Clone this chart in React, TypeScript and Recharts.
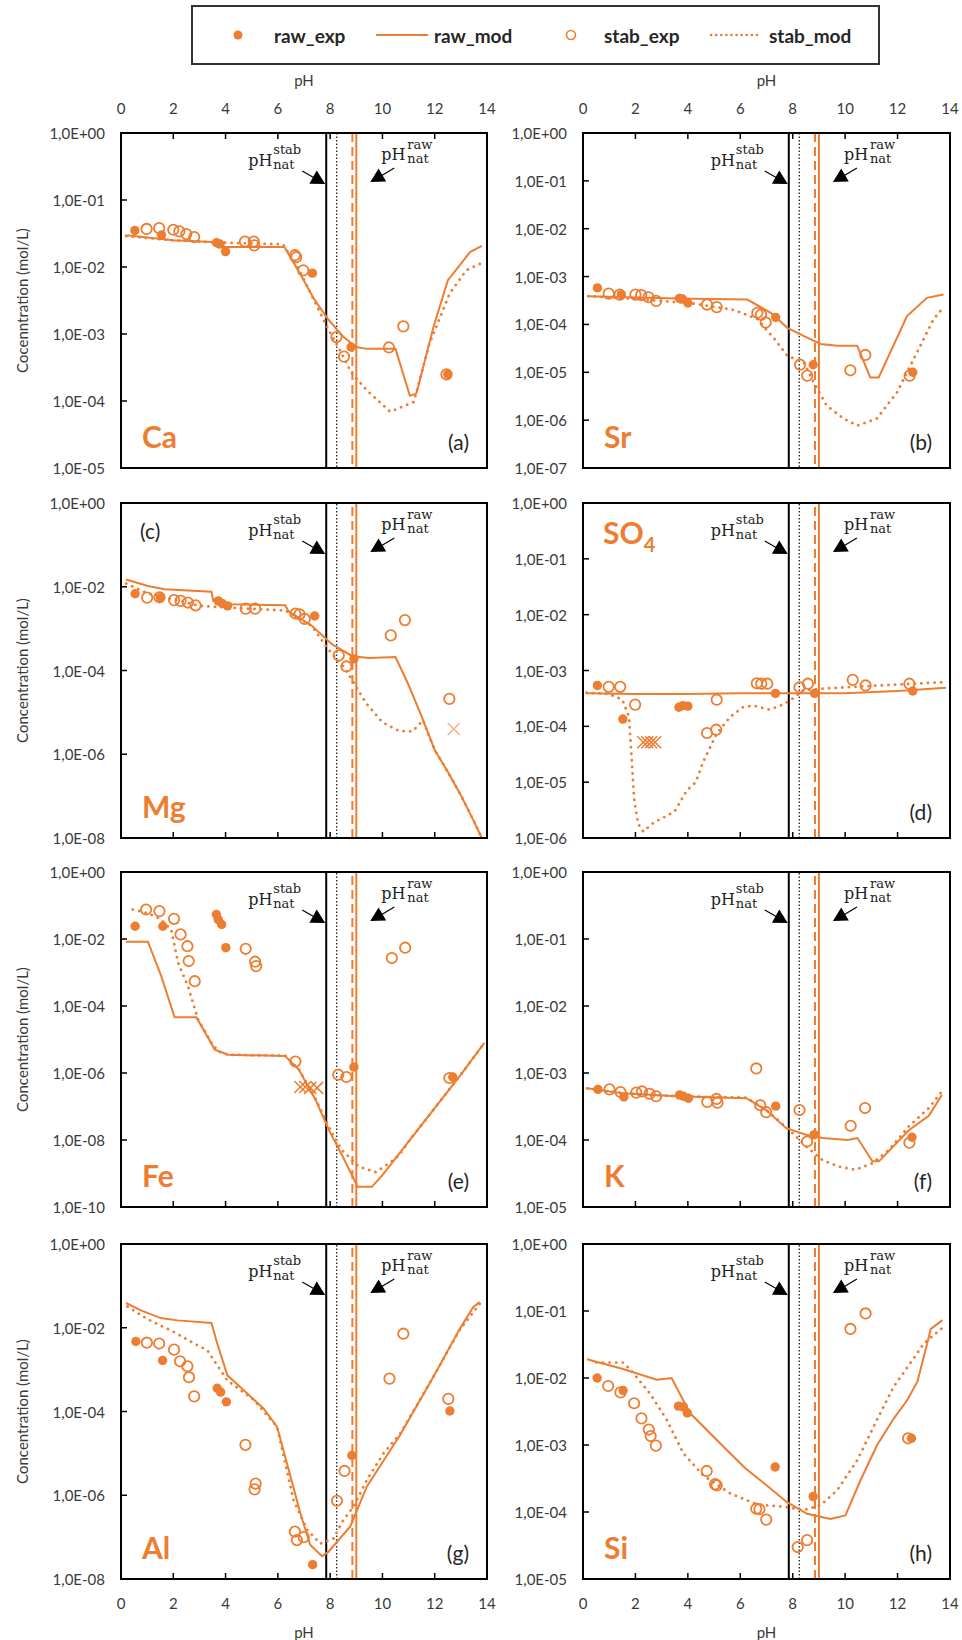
import React from "react";
import { ComposedChart, Line, Scatter, XAxis, YAxis, ReferenceLine } from "recharts";

const ORANGE = "#ED7D31";
const FONT = "Lato, 'Open Sans', sans-serif";
const SERIF = "'DejaVu Serif', serif";

const pHTicks = [0, 2, 4, 6, 8, 10, 12, 14];
// natural pH markers: stab exp, stab model, raw model, raw exp
const natStabExp = 7.85;
const natStabMod = 8.25;
const natRawMod = 8.85;
const natRawExp = 9.0;

const ticks5 = [1e-5, 1e-4, 1e-3, 1e-2, 1e-1, 1];
const ticks7 = [1e-7, 1e-6, 1e-5, 1e-4, 1e-3, 1e-2, 1e-1, 1];
const ticks6 = [1e-6, 1e-5, 1e-4, 1e-3, 1e-2, 1e-1, 1];
const ticks8 = [1e-8, 1e-6, 1e-4, 1e-2, 1];
const ticks10 = [1e-10, 1e-8, 1e-6, 1e-4, 1e-2, 1];

// ---- Ca
const caRawExp = [[0.53, 0.035], [1.55, 0.030], [3.65, 0.023], [3.78, 0.022], [4.0, 0.017], [7.32, 0.0081], [8.8, 6.4e-4], [12.5, 2.5e-4]];
const caStabExp = [[0.98, 0.037], [1.46, 0.038], [2.0, 0.036], [2.23, 0.034], [2.5, 0.031], [2.8, 0.028], [4.74, 0.024], [5.08, 0.024], [5.1, 0.021], [6.65, 0.015], [6.7, 0.014], [6.97, 0.0089], [8.24, 9e-4], [8.53, 4.6e-4], [10.25, 6.3e-4], [10.8, 1.3e-3], [12.45, 2.5e-4]];
const caRawMod = [[0.2, 0.0297], [2.0, 0.025], [3.5, 0.0236], [4.0, 0.0199], [6.25, 0.0199], [6.85, 0.0079], [7.35, 0.0035], [7.9, 0.0017], [8.5, 9.1e-4], [9.0, 6.4e-4], [9.4, 6.0e-4], [10.5, 6.0e-4], [11.05, 1.2e-4], [11.3, 1.29e-4], [11.95, 1.26e-3], [12.5, 6.3e-3], [13.35, 0.0167], [13.8, 0.0206]];
const caStabMod = [[0.2, 0.029], [2.0, 0.025], [4.0, 0.023], [6.2, 0.0218], [6.7, 0.011], [7.2, 0.0045], [7.85, 0.00135], [8.4, 5.5e-4], [8.8, 2.7e-4], [9.4, 1.45e-4], [10.3, 6.9e-5], [11.2, 9.7e-5], [11.8, 7.2e-4], [12.57, 4e-3], [13.2, 8.9e-3], [13.8, 0.0115]];

// ---- Sr
const srRawExp = [[0.55, 5.8e-4], [1.46, 4.2e-4], [3.68, 3.5e-4], [3.8, 3.4e-4], [4.0, 2.8e-4], [7.35, 1.4e-4], [8.78, 1.44e-5], [12.58, 1.0e-5]];
const srStabExp = [[0.98, 4.4e-4], [1.4, 4.2e-4], [2.0, 4.2e-4], [2.22, 4.1e-4], [2.5, 3.7e-4], [2.79, 3.1e-4], [4.73, 2.6e-4], [5.1, 2.3e-4], [6.65, 1.75e-4], [6.79, 1.6e-4], [6.97, 1.1e-4], [8.28, 1.44e-5], [8.55, 8.5e-6], [10.2, 1.1e-5], [10.77, 2.3e-5], [12.46, 8.5e-6]];
const srRawMod = [[0.2, 3.9e-4], [3.6, 3.5e-4], [6.27, 3.3e-4], [7.16, 1.75e-4], [7.8, 8.5e-5], [8.43, 5.7e-5], [9.06, 3.9e-5], [9.7, 3.6e-5], [10.46, 3.6e-5], [10.96, 7.8e-6], [11.28, 7.8e-6], [12.36, 1.5e-4], [13.12, 3.6e-4], [13.75, 4.2e-4]];
const srStabMod = [[0.2, 3.9e-4], [2.0, 3.4e-4], [4.1, 2.8e-4], [5.77, 2.0e-4], [6.65, 1.3e-4], [7.3, 5.0e-5], [7.8, 2.2e-5], [8.43, 1.6e-5], [8.8, 6.2e-6], [9.3, 2.0e-6], [9.95, 1.07e-6], [10.46, 7.7e-7], [11.2, 1.07e-6], [11.98, 3.8e-6], [12.74, 2.6e-5], [13.37, 1.28e-4], [13.78, 2.4e-4]];

// ---- Mg
const mgRawExp = [[0.54, 6.8e-3], [1.51, 5.5e-3], [3.72, 4.6e-3], [3.87, 4.0e-3], [4.08, 3.5e-3], [7.41, 2.0e-3], [8.91, 1.9e-4]];
const mgStabExp = [[1.0, 5.5e-3], [1.47, 5.6e-3], [2.03, 4.8e-3], [2.28, 4.6e-3], [2.56, 4.2e-3], [2.85, 3.6e-3], [4.77, 3.0e-3], [5.13, 3.0e-3], [6.67, 2.3e-3], [6.83, 2.2e-3], [7.03, 1.7e-3], [8.33, 2.3e-4], [8.62, 1.25e-4], [10.32, 6.9e-4], [10.86, 1.6e-3], [12.56, 2.1e-5]];
const mgRawMod = [[0.19, 0.0149], [1.03, 0.0104], [1.67, 8.7e-3], [3.46, 7.6e-3], [3.53, 4.6e-3], [4.23, 3.8e-3], [6.28, 3.6e-3], [6.41, 2.6e-3], [7.31, 1.16e-3], [8.08, 4.2e-4], [8.85, 2.2e-4], [9.49, 2.0e-4], [10.5, 2.1e-4], [11.0, 4.5e-5], [11.5, 8e-6], [12.0, 1.26e-6], [12.5, 3.8e-7], [13.0, 1.05e-7], [13.5, 2.5e-8], [13.8, 1e-8]];
const mgStabMod = [[0.2, 0.012], [1.0, 7e-3], [2.0, 5e-3], [3.0, 3.5e-3], [4.0, 3.2e-3], [6.3, 2.7e-3], [7.3, 1.16e-3], [7.88, 3.5e-4], [8.59, 1.07e-4], [8.97, 4.3e-5], [9.36, 1.7e-5], [10.0, 5.8e-6], [10.64, 3.6e-6], [11.15, 3.5e-6], [11.55, 6.5e-6], [12.0, 1.26e-6], [12.5, 3.8e-7], [13.0, 1.05e-7], [13.5, 2.5e-8], [13.8, 1e-8]];
const mgOther = [[12.73, 4.0e-6]];

// ---- SO4
const so4RawExp = [[0.55, 5.4e-4], [1.52, 1.35e-4], [3.66, 2.2e-4], [3.81, 2.35e-4], [4.0, 2.3e-4], [7.34, 3.9e-4], [8.83, 3.9e-4], [12.58, 4.3e-4]];
const so4StabExp = [[0.98, 5.1e-4], [1.42, 5.1e-4], [1.99, 2.45e-4], [4.73, 7.6e-5], [5.08, 8.7e-5], [5.1, 3.0e-4], [6.63, 5.9e-4], [6.8, 5.8e-4], [7.03, 5.8e-4], [8.26, 5.0e-4], [8.58, 5.8e-4], [10.29, 6.8e-4], [10.78, 5.4e-4], [12.45, 5.8e-4]];
const so4RawMod = [[0.13, 3.9e-4], [2.0, 3.8e-4], [4.0, 3.8e-4], [6.0, 3.9e-4], [8.0, 3.9e-4], [10.0, 3.9e-4], [12.0, 4.3e-4], [13.85, 4.9e-4]];
const so4StabMod = [[0.13, 4.0e-4], [1.0, 3.8e-4], [1.5, 3.0e-4], [1.75, 1.5e-4], [1.85, 3e-5], [1.95, 5e-6], [2.1, 1.8e-6], [2.3, 1.3e-6], [2.7, 1.9e-6], [3.2, 2.5e-6], [3.5, 3e-6], [3.95, 7e-6], [4.3, 1e-5], [4.6, 2.4e-5], [5.1, 7.4e-5], [5.6, 1.45e-4], [6.1, 2.2e-4], [6.5, 2.35e-4], [7.1, 2.0e-4], [7.5, 2.3e-4], [7.9, 2.9e-4], [8.4, 4.4e-4], [9.0, 4.7e-4], [11.0, 5.3e-4], [13.85, 6.2e-4]];
const so4Other = [[2.3, 5.2e-5], [2.45, 5.2e-5], [2.6, 5.2e-5], [2.75, 5.2e-5]];

// ---- Fe
const feRawExp = [[0.54, 0.024], [1.6, 0.024], [3.65, 0.054], [3.72, 0.038], [3.85, 0.027], [4.01, 5.5e-3], [8.91, 1.5e-6], [12.69, 7.6e-7]];
const feStabExp = [[0.96, 0.076], [1.47, 0.068], [2.03, 0.040], [2.28, 0.0137], [2.54, 6.1e-3], [2.59, 2.2e-3], [2.82, 5.5e-4], [4.77, 5.1e-3], [5.13, 2.1e-3], [5.17, 1.55e-3], [6.67, 2.2e-6], [8.31, 8.9e-7], [8.62, 7.6e-7], [10.36, 2.7e-3], [10.87, 5.5e-3], [12.56, 7.1e-7]];
const feRawMod = [[0.19, 8.3e-3], [1.03, 8.3e-3], [1.54, 7.8e-4], [2.05, 4.6e-5], [2.88, 4.6e-5], [3.59, 5e-6], [4.1, 3.5e-6], [6.28, 3.2e-6], [6.8, 1.26e-6], [7.44, 1.6e-7], [7.95, 2e-8], [8.5, 3e-9], [9.05, 4e-10], [9.6, 4e-10], [10.0, 9e-10], [11.0, 9e-9], [12.0, 9e-8], [13.0, 9e-7], [13.9, 7.9e-6]];
const feStabMod = [[0.45, 0.076], [1.0, 0.06], [1.5, 0.04], [1.92, 0.019], [2.18, 2e-3], [2.56, 3.9e-4], [2.95, 3.9e-5], [3.46, 8e-6], [3.72, 4.4e-6], [4.1, 3.5e-6], [6.28, 3.3e-6], [6.8, 1.3e-6], [7.44, 1.7e-7], [8.07, 1.6e-8], [8.45, 5e-9], [9.1, 1.6e-9], [9.75, 1.1e-9], [10.25, 2e-9], [10.64, 3.5e-9], [11.0, 9e-9], [12.0, 9e-8], [13.0, 9e-7], [13.9, 7.9e-6]];
const feOther = [[6.86, 3.8e-7], [7.05, 3.8e-7], [7.24, 3.6e-7], [7.5, 3.6e-7]];

// ---- K
const kRawExp = [[0.57, 5.7e-4], [1.56, 4.4e-4], [3.68, 4.7e-4], [3.83, 4.5e-4], [4.02, 4.2e-4], [7.35, 3.2e-4], [8.82, 1.2e-4], [12.55, 1.1e-4]];
const kStabExp = [[1.01, 5.7e-4], [1.43, 5.2e-4], [2.03, 5.1e-4], [2.25, 5.3e-4], [2.54, 4.9e-4], [2.79, 4.5e-4], [4.74, 3.7e-4], [5.09, 4.1e-4], [5.13, 3.6e-4], [6.61, 1.17e-3], [6.76, 3.3e-4], [6.99, 2.6e-4], [8.26, 2.8e-4], [8.55, 9.5e-5], [10.21, 1.63e-4], [10.76, 3.0e-4], [12.45, 9.1e-5]];
const kRawMod = [[0.16, 5.9e-4], [1.5, 5.0e-4], [3.58, 4.5e-4], [6.23, 4.2e-4], [6.99, 2.8e-4], [7.75, 1.5e-4], [8.51, 1.2e-4], [9.14, 1.07e-4], [10.09, 1.0e-4], [10.47, 1.07e-4], [11.04, 4.8e-5], [11.29, 4.8e-5], [12.43, 1.4e-4], [13.19, 2.3e-4], [13.69, 4.7e-4]];
const kStabMod = [[0.16, 5.9e-4], [1.5, 5.0e-4], [3.58, 4.5e-4], [6.23, 4.3e-4], [6.99, 2.8e-4], [7.88, 1.4e-4], [8.51, 8e-5], [9.14, 5e-5], [9.77, 4e-5], [10.4, 3.6e-5], [11.04, 4.5e-5], [11.67, 7.1e-5], [12.43, 1.6e-4], [13.19, 3e-4], [13.69, 5.3e-4]];

// ---- Al
const alRawExp = [[0.57, 4.7e-3], [1.59, 1.66e-3], [3.68, 3.6e-4], [3.81, 2.9e-4], [4.03, 1.7e-4], [7.33, 2.2e-8], [8.83, 8.9e-6], [12.58, 1.03e-4]];
const alStabExp = [[0.99, 4.4e-3], [1.46, 4.2e-3], [2.03, 3.0e-3], [2.26, 1.58e-3], [2.54, 1.2e-3], [2.6, 6.6e-4], [2.8, 2.3e-4], [4.76, 1.6e-5], [5.15, 1.9e-6], [5.11, 1.38e-6], [6.65, 1.35e-7], [6.73, 8.5e-8], [6.99, 1e-7], [8.26, 7.4e-7], [8.55, 3.8e-6], [10.27, 6.1e-4], [10.8, 7.2e-3], [12.52, 2.0e-4]];
const alRawMod = [[0.19, 0.039], [0.76, 0.026], [1.52, 0.017], [2.16, 0.015], [3.46, 0.013], [3.68, 4.2e-3], [4.07, 7.3e-4], [4.57, 3.8e-4], [5.46, 1.17e-4], [5.97, 4.3e-5], [6.35, 5.7e-6], [6.86, 3.7e-7], [7.24, 6.5e-8], [7.69, 3.5e-8], [7.94, 4.5e-8], [8.77, 1.8e-7], [9.4, 1.6e-6], [10.67, 2.7e-5], [11.94, 6.6e-4], [12.96, 9.4e-3], [13.47, 0.031], [13.72, 0.041]];
const alStabMod = [[0.25, 0.032], [1.02, 0.016], [2.03, 7.9e-3], [2.8, 4.2e-3], [3.3, 2.9e-3], [4.07, 5.5e-4], [5.08, 1.9e-4], [5.97, 4.3e-5], [6.6, 7.6e-7], [7.12, 1.5e-7], [7.62, 7e-8], [8.13, 9.3e-8], [8.51, 2.6e-7], [8.9, 5.4e-7], [9.4, 2.3e-6], [10.04, 1e-5], [10.67, 2.9e-5], [11.94, 6.6e-4], [12.96, 9e-3], [13.72, 0.037]];

// ---- Si
const siRawExp = [[0.54, 0.010], [1.53, 6.5e-3], [3.64, 3.8e-3], [3.83, 3.7e-3], [3.98, 3.0e-3], [7.33, 4.7e-4], [8.78, 1.7e-4], [12.53, 1.26e-3]];
const siStabExp = [[0.96, 7.6e-3], [1.43, 6.1e-3], [1.95, 4.2e-3], [2.23, 2.5e-3], [2.51, 1.7e-3], [2.58, 1.36e-3], [2.78, 9.8e-4], [4.72, 4.1e-4], [5.04, 2.6e-4], [5.1, 2.5e-4], [6.61, 1.12e-4], [6.73, 1.1e-4], [6.99, 7.7e-5], [8.19, 3.0e-5], [8.55, 3.8e-5], [10.2, 0.054], [10.78, 0.092], [12.4, 1.26e-3]];
const siRawMod = [[0.15, 0.019], [1.53, 0.0136], [2.81, 9.4e-3], [3.38, 0.010], [4.08, 3.0e-3], [5.36, 9.4e-4], [6.19, 4.5e-4], [7.0, 2.5e-4], [7.78, 1.4e-4], [8.55, 9.4e-5], [9.44, 7.9e-5], [10.01, 8.9e-5], [10.59, 3.0e-4], [11.22, 1.0e-3], [11.86, 2.5e-3], [12.37, 4.7e-3], [12.76, 8.9e-3], [13.27, 0.054], [13.71, 0.073]];
const siStabMod = [[0.51, 0.017], [1.53, 0.017], [1.91, 0.012], [2.55, 5.9e-3], [3.19, 2.4e-3], [3.83, 7.5e-4], [4.59, 3.5e-4], [5.61, 1.9e-4], [6.63, 1.3e-4], [7.65, 1.2e-4], [8.42, 1.07e-4], [9.06, 1.26e-4], [9.69, 2.1e-4], [10.46, 5.9e-4], [11.22, 2.4e-3], [11.86, 7.5e-3], [12.5, 0.017], [13.01, 0.033], [13.71, 0.056]];

const pts = (a: number[][]) => a.map(([x, y]) => ({ x, y }));

const fmtE = (v: number) => {
  const e = Math.round(Math.log10(v));
  return `1,0E${e < 0 ? "-" : "+"}${String(Math.abs(e)).padStart(2, "0")}`;
};

const LX = 121, RX = 583, LW = 366, RW = 367, PH = 335;
const ROWS = [133, 503, 872, 1244];

const panels = [
  { el: "Ca", letter: "(a)", x0: LX, y0: ROWS[0], w: LW, lo: 1e-5, ticks: ticks5, axis: "top", xLabels: true, yTitle: "Cocenntration (mol/L)", elTop: false, letterTop: false, rawExp: caRawExp, stabExp: caStabExp, rawMod: caRawMod, stabMod: caStabMod, other: [] as number[][], otherColor: ORANGE },
  { el: "Sr", letter: "(b)", x0: RX, y0: ROWS[0], w: RW, lo: 1e-7, ticks: ticks7, axis: "top", xLabels: true, yTitle: "", elTop: false, letterTop: false, rawExp: srRawExp, stabExp: srStabExp, rawMod: srRawMod, stabMod: srStabMod, other: [], otherColor: ORANGE },
  { el: "Mg", letter: "(c)", x0: LX, y0: ROWS[1], w: LW, lo: 1e-8, ticks: ticks8, axis: "bottom", xLabels: false, yTitle: "Concentration (mol/L)", elTop: false, letterTop: true, rawExp: mgRawExp, stabExp: mgStabExp, rawMod: mgRawMod, stabMod: mgStabMod, other: mgOther, otherColor: "#F4B183" },
  { el: "SO4", letter: "(d)", x0: RX, y0: ROWS[1], w: RW, lo: 1e-6, ticks: ticks6, axis: "bottom", xLabels: false, yTitle: "", elTop: true, letterTop: false, rawExp: so4RawExp, stabExp: so4StabExp, rawMod: so4RawMod, stabMod: so4StabMod, other: so4Other, otherColor: ORANGE },
  { el: "Fe", letter: "(e)", x0: LX, y0: ROWS[2], w: LW, lo: 1e-10, ticks: ticks10, axis: "bottom", xLabels: false, yTitle: "Concentration (mol/L)", elTop: false, letterTop: false, rawExp: feRawExp, stabExp: feStabExp, rawMod: feRawMod, stabMod: feStabMod, other: feOther, otherColor: ORANGE },
  { el: "K", letter: "(f)", x0: RX, y0: ROWS[2], w: RW, lo: 1e-5, ticks: ticks5, axis: "bottom", xLabels: false, yTitle: "", elTop: false, letterTop: false, rawExp: kRawExp, stabExp: kStabExp, rawMod: kRawMod, stabMod: kStabMod, other: [], otherColor: ORANGE },
  { el: "Al", letter: "(g)", x0: LX, y0: ROWS[3], w: LW, lo: 1e-8, ticks: ticks8, axis: "bottom", xLabels: true, yTitle: "Concentration (mol/L)", elTop: false, letterTop: false, rawExp: alRawExp, stabExp: alStabExp, rawMod: alRawMod, stabMod: alStabMod, other: [], otherColor: ORANGE },
  { el: "Si", letter: "(h)", x0: RX, y0: ROWS[3], w: RW, lo: 1e-5, ticks: ticks5, axis: "bottom", xLabels: true, yTitle: "", elTop: false, letterTop: false, rawExp: siRawExp, stabExp: siStabExp, rawMod: siRawMod, stabMod: siStabMod, other: [], otherColor: ORANGE },
];

const ML = 115, MT = 60, MR = 12, MB = 60;

function arrowHead(sx: number, sy: number, tx: number, ty: number) {
  const dx = tx - sx, dy = ty - sy;
  const len = Math.hypot(dx, dy);
  const ux = dx / len, uy = dy / len;
  const bx = tx - ux * 14, by = ty - uy * 14;
  const px = -uy * 7.5, py = ux * 7.5;
  return `${tx},${ty} ${bx + px},${by + py} ${bx - px},${by - py}`;
}

function PhNote({ vb, kind, fx }: any) {
  const x = vb && typeof vb.x === "number" ? vb.x : fx;
  const y = vb && typeof vb.y === "number" ? vb.y : MT;
  const tc = "#222";
  if (kind === "stab") {
    const sx = x - 24, sy = y + 38, tx = x - 1, ty = y + 51;
    return (
      <g fontFamily={SERIF} fill={tc}>
        <text x={x - 78} y={y + 33} fontSize={16}>pH</text>
        <text x={x - 53} y={y + 21} fontSize={13}>stab</text>
        <text x={x - 53} y={y + 36} fontSize={13}>nat</text>
        <line x1={sx} y1={sy} x2={tx - 9} y2={ty - 5} stroke="#000" strokeWidth={1.2} />
        <polygon points={arrowHead(sx, sy, tx, ty)} fill="#000" />
      </g>
    );
  }
  const sx = x + 38, sy = y + 35, tx = x + 14, ty = y + 49;
  return (
    <g fontFamily={SERIF} fill={tc}>
      <text x={x + 25} y={y + 27} fontSize={16}>pH</text>
      <text x={x + 51} y={y + 16} fontSize={13}>raw</text>
      <text x={x + 51} y={y + 30} fontSize={13}>nat</text>
      <line x1={sx} y1={sy} x2={tx + 9} y2={ty - 5} stroke="#000" strokeWidth={1.2} />
      <polygon points={arrowHead(sx, sy, tx, ty)} fill="#000" />
    </g>
  );
}

const openCircle = (s: any) => (
  <circle cx={s.cx} cy={s.cy} r={5.2} fill="none" stroke={ORANGE} strokeWidth={1.8} />
);
const filledCircle = (s: any) => <circle cx={s.cx} cy={s.cy} r={4.7} fill={ORANGE} />;

function Panel({ p }: { p: (typeof panels)[number] }) {
  const top = p.axis === "top";
  const w = p.w;
  const xPix = (v: number) => ML + (v / 14) * w;
  const crossShape = (s: any) => (
    <g stroke={p.otherColor} strokeWidth={1.5}>
      <line x1={s.cx - 6} y1={s.cy - 6} x2={s.cx + 6} y2={s.cy + 6} />
      <line x1={s.cx - 6} y1={s.cy + 6} x2={s.cx + 6} y2={s.cy - 6} />
    </g>
  );
  const xTick = (t: any) => {
    const yEdge = top ? MT : MT + PH;
    const dir = top ? 1 : -1;
    return (
      <g>
        <line x1={t.x} x2={t.x} y1={yEdge} y2={yEdge + dir * 6} stroke="#000" strokeWidth={1.5} />
        {p.xLabels && (
          <text x={t.x} y={top ? MT - 25 : MT + PH + 24} textAnchor="middle" dominantBaseline="central" fontFamily={FONT} fontSize={15} fill="#3a3a3a">
            {t.payload.value}
          </text>
        )}
      </g>
    );
  };
  const yTick = (t: any) => (
    <g>
      <line x1={ML} x2={ML + 6} y1={t.y} y2={t.y} stroke="#000" strokeWidth={1.5} />
      <text x={ML - 16} y={t.y} textAnchor="end" dominantBaseline="central" fontFamily={FONT} fontSize={15} fill="#3a3a3a">
        {fmtE(t.payload.value)}
      </text>
    </g>
  );
  return (
    <div style={{ position: "absolute", left: p.x0 - ML, top: p.y0 - MT }}>
      <ComposedChart
        width={ML + w + MR}
        height={MT + PH + MB}
        margin={{ top: top ? 0 : MT, bottom: top ? MB : 0, left: 0, right: MR }}
      >
        <XAxis
          dataKey="x"
          type="number"
          domain={[0, 14]}
          ticks={pHTicks}
          interval={0}
          orientation={top ? "top" : "bottom"}
          height={top ? MT : MB}
          axisLine={false}
          tickLine={false}
          tickSize={0}
          tick={xTick}
          allowDataOverflow
        />
        <YAxis
          dataKey="y"
          type="number"
          scale="log"
          domain={[p.lo, 1]}
          ticks={p.ticks}
          interval={0}
          width={ML}
          axisLine={false}
          tickLine={false}
          tickSize={0}
          tick={yTick}
          allowDataOverflow
        />
        <ReferenceLine
          x={natStabExp}
          stroke="#000"
          strokeWidth={2}
          label={(lp: any) => <PhNote vb={lp && lp.viewBox} kind="stab" fx={xPix(natStabExp)} />}
        />
        <ReferenceLine x={natStabMod} stroke="#222" strokeWidth={1.3} strokeDasharray="1.5 2" />
        <ReferenceLine x={natRawMod} stroke={ORANGE} strokeWidth={2} strokeDasharray="9 5" />
        <ReferenceLine
          x={natRawExp}
          stroke={ORANGE}
          strokeWidth={2}
          label={(lp: any) => <PhNote vb={lp && lp.viewBox} kind="raw" fx={xPix(natRawExp)} />}
        />
        <Line data={pts(p.stabMod)} dataKey="y" stroke={ORANGE} strokeWidth={2.8} strokeDasharray="0.1 6.5" strokeLinecap="round" dot={false} activeDot={false} isAnimationActive={false} />
        <Line data={pts(p.rawMod)} dataKey="y" stroke={ORANGE} strokeWidth={2} dot={false} activeDot={false} isAnimationActive={false} />
        <Scatter data={pts(p.stabExp)} dataKey="y" shape={openCircle} isAnimationActive={false} />
        <Scatter data={pts(p.rawExp)} dataKey="y" shape={filledCircle} isAnimationActive={false} />
        {p.other.length > 0 && <Scatter data={pts(p.other)} dataKey="y" shape={crossShape} isAnimationActive={false} />}
      </ComposedChart>
    </div>
  );
}

function Overlay() {
  return (
    <svg width={962} height={1640} style={{ position: "absolute", left: 0, top: 0, pointerEvents: "none" }}>
      {/* legend */}
      <rect x={192} y={6} width={687} height={58} fill="none" stroke="#333" strokeWidth={2} />
      <g fontFamily={FONT} fontWeight={700} fontSize={19} fill="#262626">
        <circle cx={238} cy={35} r={4.5} fill={ORANGE} />
        <text x={274} y={35} dominantBaseline="central">raw_exp</text>
        <line x1={376} x2={428} y1={35} y2={35} stroke={ORANGE} strokeWidth={2} />
        <text x={434} y={35} dominantBaseline="central">raw_mod</text>
        <circle cx={571} cy={35} r={4.5} fill="none" stroke={ORANGE} strokeWidth={1.6} />
        <text x={604} y={35} dominantBaseline="central">stab_exp</text>
        <line x1={711} x2={760} y1={35} y2={35} stroke={ORANGE} strokeWidth={2.6} strokeDasharray="0.1 5" strokeLinecap="round" />
        <text x={769} y={35} dominantBaseline="central">stab_mod</text>
      </g>
      {/* axis titles */}
      <g fontFamily={FONT} fontSize={15} fill="#3a3a3a" textAnchor="middle">
        <text x={LX + LW / 2} y={80} dominantBaseline="central">pH</text>
        <text x={RX + RW / 2} y={80} dominantBaseline="central">pH</text>
        <text x={LX + LW / 2} y={1632} dominantBaseline="central">pH</text>
        <text x={RX + RW / 2} y={1632} dominantBaseline="central">pH</text>
      </g>
      {panels.map((p) => {
        const x1 = p.x0 + p.w;
        const y1 = p.y0 + PH;
        return (
          <g key={p.el}>
            <rect x={p.x0} y={p.y0} width={p.w} height={PH} fill="none" stroke="#000" strokeWidth={2} />
            {p.yTitle && (
              <text
                x={22}
                y={p.y0 + PH / 2}
                transform={`rotate(-90 22 ${p.y0 + PH / 2})`}
                textAnchor="middle"
                dominantBaseline="central"
                fontFamily={FONT}
                fontSize={15}
                fill="#3a3a3a"
              >
                {p.yTitle}
              </text>
            )}
            {p.el === "SO4" ? (
              <text x={p.x0 + 20} y={p.y0 + 41} fontFamily={FONT} fontWeight={700} fontSize={30} fill={ORANGE}>
                SO<tspan fontSize={20} dy={8}>4</tspan>
              </text>
            ) : (
              <text x={p.x0 + 21} y={p.elTop ? p.y0 + 41 : y1 - 20} fontFamily={FONT} fontWeight={700} fontSize={30} fill={ORANGE}>
                {p.el}
              </text>
            )}
            {p.letterTop ? (
              <text x={p.x0 + 19} y={p.y0 + 36} fontFamily={FONT} fontSize={21} fill="#262626">{p.letter}</text>
            ) : (
              <text x={x1 - 18} y={y1 - 18} textAnchor="end" fontFamily={FONT} fontSize={21} fill="#262626">{p.letter}</text>
            )}
          </g>
        );
      })}
    </svg>
  );
}

export default function App() {
  return (
    <div style={{ position: "absolute", left: 0, top: 0, width: 962, height: 1640, background: "#fff", fontFamily: FONT }}>
      {panels.map((p) => (
        <Panel key={p.el} p={p} />
      ))}
      <Overlay />
    </div>
  );
}
